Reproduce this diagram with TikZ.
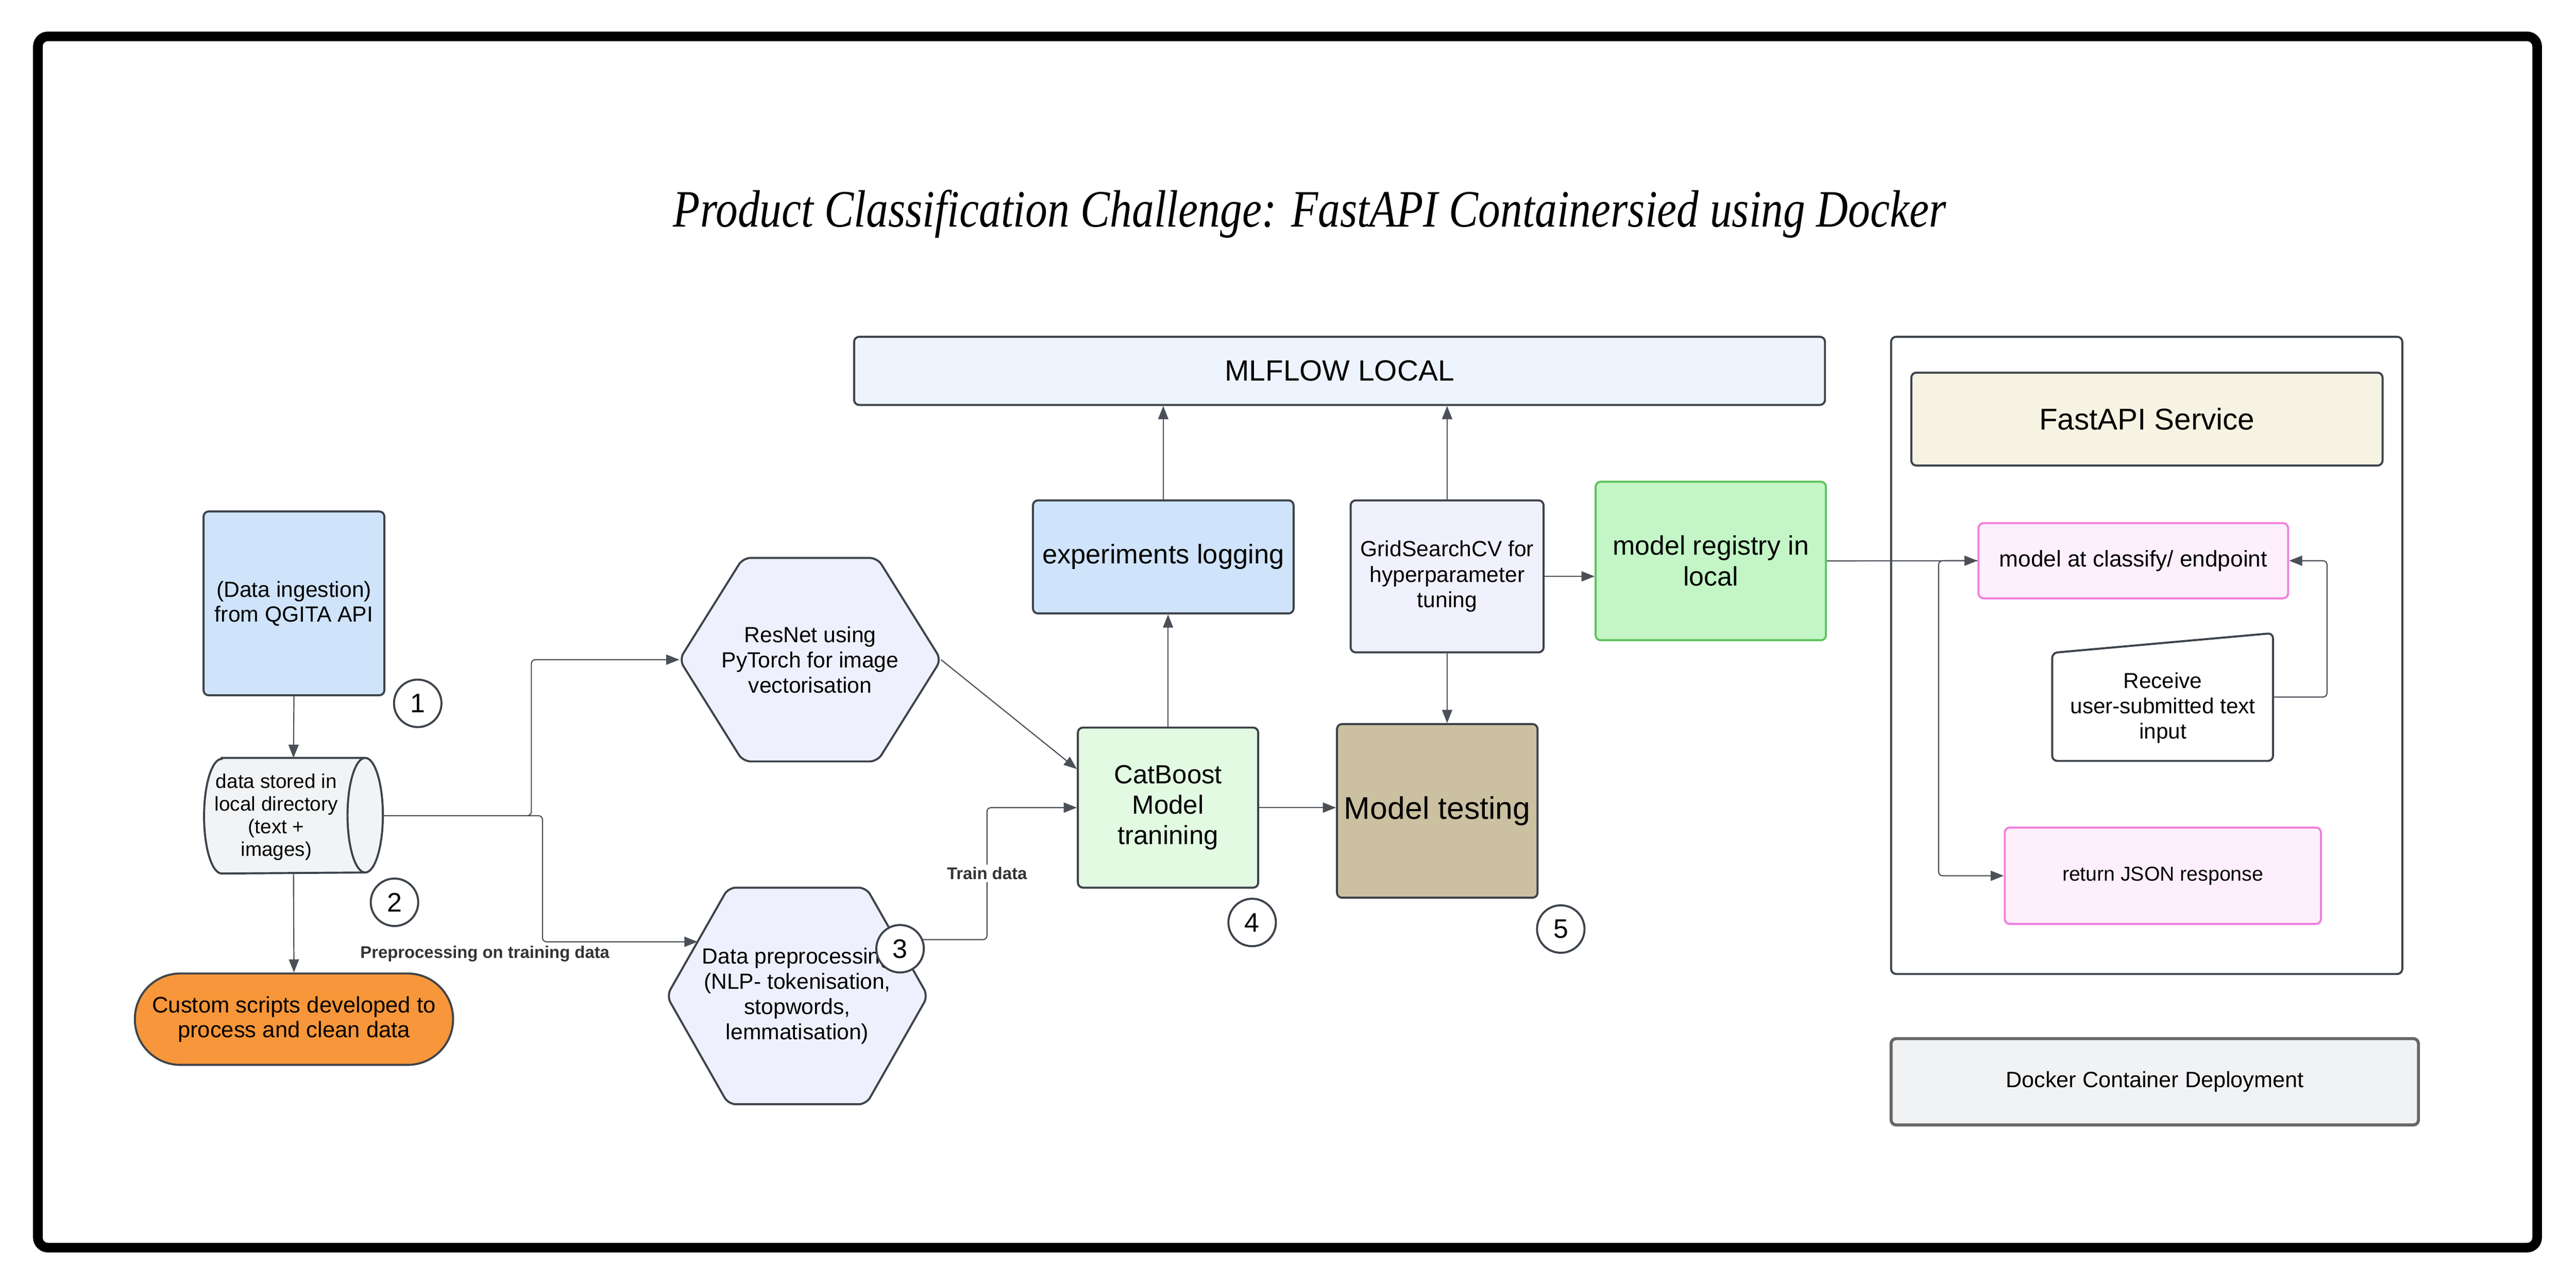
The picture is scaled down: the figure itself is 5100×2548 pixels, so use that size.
\documentclass[tikz,border=0pt]{standalone}
\usepackage{graphicx}
\usepackage{fontspec}
\setmainfont{Liberation Sans}
\newfontfamily\ttlfont{Liberation Serif}
\usetikzlibrary{arrows.meta,calc}
\pgfdeclarelayer{bg}
\pgfsetlayers{bg,main}
\definecolor{bordc}{HTML}{3D434B}
\definecolor{linec}{HTML}{4B5058}
\definecolor{lblc}{HTML}{333333}
\definecolor{ingc}{HTML}{CFE3FB}
\definecolor{cylc}{HTML}{F1F3F5}
\definecolor{orangec}{HTML}{F7963A}
\definecolor{hexc}{HTML}{EFF0FD}
\definecolor{catc}{HTML}{E2F9E2}
\definecolor{testc}{HTML}{CBC0A0}
\definecolor{mlfc}{HTML}{EEF4FD}
\definecolor{gridc}{HTML}{F0F1FD}
\definecolor{regc}{HTML}{C3F5C6}
\definecolor{regb}{HTML}{5DC55F}
\definecolor{fsvcc}{HTML}{F6F3E2}
\definecolor{pinkc}{HTML}{FDEFFB}
\definecolor{pinkb}{HTML}{F07FDC}
\definecolor{dockc}{HTML}{F1F2F4}
\definecolor{dockb}{HTML}{666666}
\newcommand{\setfs}[2]{\fontsize{#1pt}{#2pt}\selectfont}
\begin{document}
\begin{tikzpicture}[x=0.2pt,y=-0.2pt,
  pbox/.style={draw=bordc, line width=0.8pt, rounded corners=2pt, inner sep=0pt, align=center, text=black},
  anch/.style={inner sep=0pt, align=center, text=black},
  hexs/.style={fill=hexc, draw=bordc, line width=0.8pt, rounded corners=3pt},
  conn/.style={draw=linec, line width=0.45pt, rounded corners=1.6pt, -{Triangle[length=5.2pt,width=4pt]}},
  num/.style={circle, draw=bordc, line width=0.8pt, fill=white, minimum size=18.8pt, inner sep=0pt, font=\setfs{10.6}{12}},
  lbl/.style={font=\bfseries\setfs{6.7}{8}, text=lblc, inner sep=1pt}]
\useasboundingbox (0,0) rectangle (5100,2548);
% outer frame
\draw[line width=3.8pt, rounded corners=4pt] (75,72) rectangle (5023,2471);
% title
\node[anchor=base, inner sep=0pt] (title) at (2593,449) {\resizebox{504pt}{\height}{\ttlfont\itshape\fontsize{20.8pt}{24pt}\selectfont Product Classification Challenge: FastAPI Containersied using Docker}};

% left column
\node[pbox, fill=ingc, minimum width=71.6pt, minimum height=72.8pt, font=\setfs{8.7}{9.8}] (ing) at (582,1195) {(Data ingestion)\\from QGITA API};
\node[anch, minimum width=70.4pt, minimum height=45.4pt] (cyl) at (581,1615.5) {};
\node[anch, font=\setfs{7.9}{9}] (cylt) at (547,1618) {data stored in\\local directory\\(text +\\images)};
\node[pbox, fill=orangec, rounded corners=18pt, minimum width=126pt, minimum height=36.2pt, font=\setfs{8.9}{9.8}] (scr) at (582,2018.5) {Custom scripts developed to\\process and clean data};

% hexagons
\node[anch, minimum width=103.2pt, minimum height=80.2pt, font=\setfs{8.7}{10}] (res) at (1604,1306.5) {ResNet using\\PyTorch for image\\vectorisation};
\node[anch, minimum width=103pt, minimum height=85.4pt, font=\setfs{8.7}{10}] (pre) at (1578.5,1972.5) {Data preprocessing\\(NLP- tokenisation,\\stopwords,\\lemmatisation)};
\coordinate (preTL) at ([xshift=24.4pt]pre.north west);
\coordinate (preTR) at ([xshift=-24.4pt]pre.north east);
\coordinate (preIn) at ($(pre.west)!0.5!(preTL)$);
\coordinate (preOut) at ($(pre.east)!0.52!(preTR)$);

% middle
\node[pbox, fill=catc, minimum width=71.4pt, minimum height=63.4pt, font=\setfs{10.4}{12}] (cat) at (2312.5,1599.5) {CatBoost\\Model\\tranining};
\node[pbox, fill=ingc, minimum width=103.2pt, minimum height=44.8pt, font=\setfs{10.7}{12}] (exp) at (2303,1103) {experiments logging};
\node[pbox, fill=mlfc, minimum width=384.4pt, minimum height=27pt, font=\setfs{11.6}{13}] (mlf) at (2652,734.5) {MLFLOW LOCAL};
\node[pbox, fill=gridc, minimum width=76.4pt, minimum height=60.2pt, font=\setfs{8.7}{10.1}] (grid) at (2865,1141.5) {GridSearchCV for\\hyperparameter\\tuning};
\node[pbox, fill=testc, minimum width=79.4pt, minimum height=68.8pt, font=\setfs{12.4}{14}] (test) at (2845.5,1606) {Model testing};
\node[pbox, draw=regb, fill=regc, minimum width=91.2pt, minimum height=62.8pt, font=\setfs{10.6}{12.2}] (reg) at (3387,1111) {model registry in\\local};

% right container
\node[pbox, fill=none, minimum width=202.4pt, minimum height=252.4pt] (cont) at (4250,1298) {};
\node[pbox, fill=fsvcc, minimum width=186.6pt, minimum height=36.8pt, font=\setfs{11.9}{13}] (fsvc) at (4250.5,830) {FastAPI Service};
\node[pbox, draw=pinkb, fill=pinkc, minimum width=122.6pt, minimum height=29.8pt, font=\setfs{9}{10}] (ep) at (4223.5,1110.5) {model at classify/ endpoint};
\node[anch, minimum width=87pt, minimum height=50.2pt] (recv) at (4281.5,1380.5) {};
\node[anch, font=\setfs{8.6}{10}] (recvt) at (4282,1402) {Receive\\user-submitted text\\input};
\node[pbox, draw=pinkb, fill=pinkc, minimum width=125.2pt, minimum height=38.2pt, font=\setfs{8}{9}] (json) at (4282,1734.5) {return JSON response};
\node[pbox, draw=dockb, line width=1.2pt, fill=dockc, minimum width=208.8pt, minimum height=34.2pt, font=\setfs{8.8}{10}] (dock) at (4266,2142.5) {Docker Container Deployment};

% custom shapes on background layer
\begin{pgfonlayer}{bg}
\filldraw[fill=cylc, draw=bordc, line width=0.8pt] ([xshift=7pt]cyl.north west) -- ([xshift=-7pt]cyl.north east) arc[start angle=90, end angle=-90, x radius=7pt, y radius=22.7pt] -- ([xshift=7pt]cyl.south west) arc[start angle=270, end angle=90, x radius=7pt, y radius=22.7pt] -- cycle;
\draw[draw=bordc, line width=0.8pt] ([xshift=-7pt]cyl.north east) arc[start angle=90, end angle=270, x radius=7pt, y radius=22.7pt];
\filldraw[hexs] (res.west) -- ([xshift=25.2pt]res.north west) -- ([xshift=-25.2pt]res.north east) -- (res.east) -- ([xshift=-25.2pt]res.south east) -- ([xshift=25.2pt]res.south west) -- cycle;
\filldraw[hexs] (pre.west) -- (preTL) -- (preTR) -- (pre.east) -- ([xshift=-24.4pt]pre.south east) -- ([xshift=24.4pt]pre.south west) -- cycle;
\filldraw[fill=white, draw=bordc, line width=0.8pt, rounded corners=2pt] (recv.south west) -- ([yshift=-7.8pt]recv.north west) -- (recv.north east) -- (recv.south east) -- cycle;
\end{pgfonlayer}

% connectors
\draw[conn] (ing.south) -- (cyl.north);
\draw[conn] (cyl.south) -- (scr.north);
\draw[conn] (cyl.east) -- ++(294,0) |- (res.west);
\draw[conn] (cyl.east) -- ++(316,0) |- (preIn);
\node[lbl] (plabel) at (960,1889) {Preprocessing on training data};
\draw[conn] (res.east) -- ($(cat.north west)!0.262!(cat.south west)$);
\coordinate (tmid) at (1954,1730);
\draw[conn] (preOut) -| (tmid) |- (cat.west);
\node[lbl, fill=white] (tlabel) at (tmid) {Train data};
\draw[conn] (cat.east) -- (cat.east -| test.west);
\draw[conn] (cat.north) -- (cat.north |- exp.south);
\draw[conn] (exp.north) -- (exp.north |- mlf.south);
\draw[conn] (grid.north) -- (grid.north |- mlf.south);
\draw[conn] (grid.south) -- (grid.south |- test.north);
\draw[conn] (grid.east) -- (grid.east -| reg.west);
\draw[conn] (reg.east) -- (ep.west);
\draw[conn] (ep.west) -- ++(-77,0) |- (json.west);
\draw[conn] (recv.east) -- ++(107,0) |- (ep.east);

% step numbers
\node[num] (n1) at (827,1393) {1};
\node[num] (n2) at (781,1787) {2};
\node[num] (n3) at (1782,1879) {3};
\node[num] (n4) at (2479,1827) {4};
\node[num] (n5) at (3090,1840) {5};
\end{tikzpicture}
\end{document}
